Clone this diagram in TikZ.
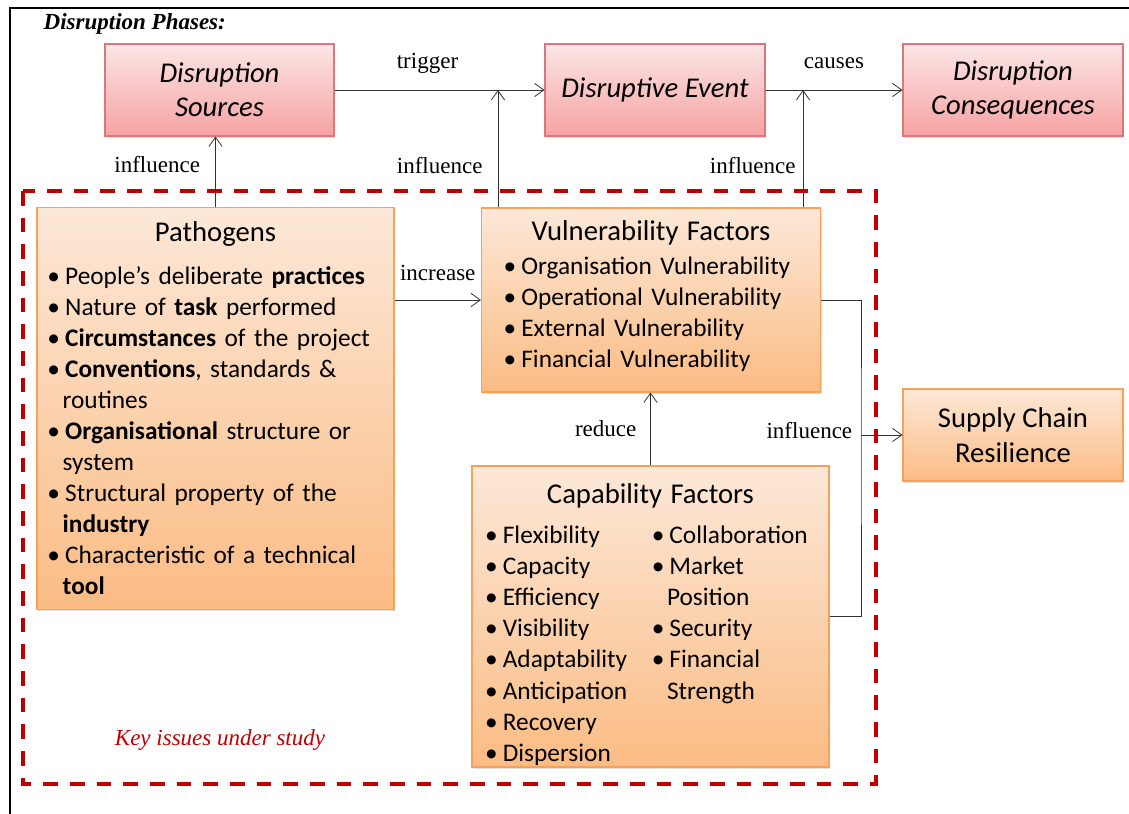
\documentclass[tikz,border=0pt]{standalone}
\usepackage{fontspec}
\setmainfont{Liberation Serif}
\newfontfamily\calfont{Carlito}
\usetikzlibrary{arrows.meta,shadows}

\definecolor{pinktop}{HTML}{FCE6E6}
\definecolor{pinkbot}{HTML}{F6A2A2}
\definecolor{pinkline}{HTML}{D9777A}
\definecolor{orgtop}{HTML}{FCE8D8}
\definecolor{orgbot}{HTML}{FBBC84}
\definecolor{orgline}{HTML}{F7A05A}
\definecolor{keyred}{HTML}{C00000}

% bullet line with hanging indent
\newcommand{\bul}[1]{\par\hangindent=0.6em\hangafter=1\noindent\textbullet\hspace{0.2em}#1}

\begin{document}
\begin{tikzpicture}[x=0.75pt,y=-0.75pt,
    phase/.style={draw=pinkline, top color=pinktop, bottom color=pinkbot, line width=0.8pt,
      minimum height=69pt, inner sep=0pt, align=center,
      font=\calfont\itshape\fontsize{21.5}{25.5}\selectfont,
      drop shadow={shadow xshift=1pt, shadow yshift=-1.5pt, opacity=0.25}},
    factor/.style={draw=orgline, top color=orgtop, bottom color=orgbot, line width=0.8pt,
      inner sep=0pt, font=\calfont\fontsize{19}{23.3}\selectfont,
      drop shadow={shadow xshift=1pt, shadow yshift=-1.5pt, opacity=0.25}},
    conn/.style={draw=black!80, line width=0.6pt},
    arr/.style={conn, -{Straight Barb[length=7pt,width=10pt]}},
    lbl/.style={font=\fontsize{17.25}{20}\selectfont, text=black}]
  \useasboundingbox (0,0) rectangle (1129,814);

  % frame and study area
  \draw[line width=1.2pt] (10,814) |- (1129,8);
  \draw[keyred, line width=3pt, dash pattern=on 11pt off 9pt] (23,191) rectangle (876,784);

  \node[lbl, anchor=west] (phases) at (39,24) {\textbf{\textit{Disruption Phases:}}};
  \node[lbl, text=keyred] (key) at (220,740) {\textit{Key issues under study}};

  % disruption phases
  \node[phase, minimum width=171.75pt] (src) at (219.5,90) {Disruption\\Sources};
  \node[phase, minimum width=165pt] (evt) at (655,90) {Disruptive Event};
  \node[phase, minimum width=165pt] (cons) at (1013,90) {Disruption\\Consequences};

  % factors
  \node[factor, minimum width=267.75pt, minimum height=301pt, text width=252pt, align=left] (path) at (215.5,408.5) {%
    {\centering\fontsize{21.5}{26}\selectfont Pathogens\par}\vspace{8.5pt}%
    \bul{People’s deliberate \textbf{practices}}%
    \bul{Nature of \textbf{task} performed}%
    \bul{\textbf{Circumstances} of the project}%
    \bul{\textbf{Conventions}, standards \&\newline routines}%
    \bul{\textbf{Organisational} structure or\newline system}%
    \bul{Structural property of the\newline \textbf{industry}}%
    \bul{Characteristic of a technical\newline \textbf{tool}}\par};
  \node[factor, minimum width=254.25pt, minimum height=138pt, text width=221pt, align=left] (vul) at (651,300) {%
    {\centering\fontsize{21.5}{26}\selectfont Vulnerability Factors\par}\vspace{2pt}%
    \bul{Organisation Vulnerability}%
    \bul{Operational Vulnerability}%
    \bul{External Vulnerability}%
    \bul{Financial Vulnerability\rule[-9pt]{0pt}{9pt}}\par};
  \node[factor, minimum width=267.75pt, minimum height=225.75pt, text width=248pt, align=left] (cap) at (650.5,616.5) {%
    {\centering\fontsize{21.5}{26}\selectfont\rule{0pt}{27pt}Capability Factors\par}\vspace{6.7pt}%
    \noindent\begin{minipage}[t]{125pt}\raggedright
      \bul{Flexibility}\bul{Capacity}\bul{Efficiency}\bul{Visibility}%
      \bul{Adaptability}\bul{Anticipation}\bul{Recovery}\bul{Dispersion}\par
    \end{minipage}%
    \begin{minipage}[t]{123pt}\raggedright
      \bul{Collaboration}\bul{Market\newline Position}\bul{Security}%
      \bul{Financial\newline Strength}\par
    \end{minipage}};
  \node[factor, minimum width=165pt, minimum height=69pt, align=center,
    font=\calfont\fontsize{21.5}{26}\selectfont] (scr) at (1013,435) {Supply Chain\\Resilience};

  % connectors
  \draw[arr] (src.east) -- (evt.west) node[lbl, midway, xshift=-9pt, yshift=20pt] {trigger};
  \draw[arr] (evt.east) -- (cons.west) node[lbl, midway, yshift=20pt] {causes};
  \draw[arr] (path.north) -- (path.north |- src.south) node[lbl, pos=0.6, left=8pt] {influence};
  \coordinate (vulA) at ([xshift=12.75pt]vul.north west);
  \coordinate (vulB) at ([xshift=-13.5pt]vul.north east);
  \draw[arr] (vulA) -- (vulA |- src.east) node[lbl, pos=0.36, left=8pt] {influence};
  \draw[arr] (vulB) -- (vulB |- evt.east) node[lbl, pos=0.36, left=2pt] {influence};
  \draw[arr] (path.east |- vul.west) -- (vul.west) node[lbl, midway, yshift=20pt] {increase};
  \draw[arr] (cap.north) -- (cap.north |- vul.south) node[lbl, midway, left=7pt] {reduce};
  \coordinate (jn) at (861,435);
  \draw[conn] (vul.east) -| (jn) |- (cap.east);
  \draw[arr] (jn) -- (scr.west) node[lbl, pos=0, left=3pt, yshift=3pt] {influence};
\end{tikzpicture}
\end{document}
